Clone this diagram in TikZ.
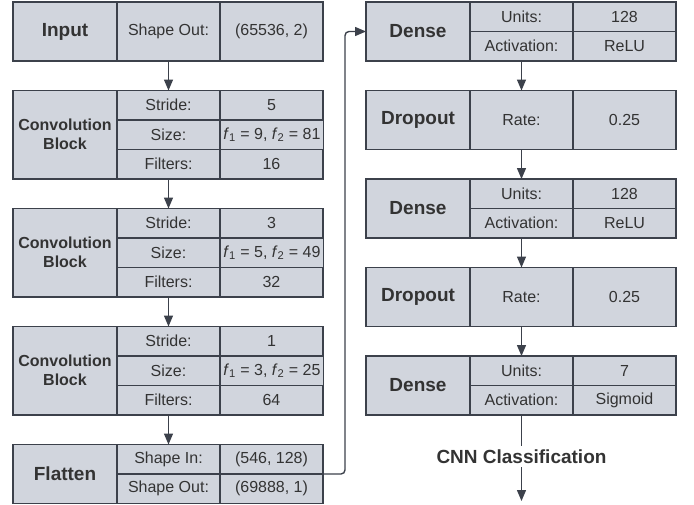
\documentclass[tikz,border=0pt]{standalone}
\usepackage{fontspec}
\setmainfont{Liberation Sans}
\usetikzlibrary{arrows.meta,positioning}
\usepackage{xcolor}
\definecolor{cellfill}{HTML}{D1D5DD}
\definecolor{celldraw}{HTML}{3C414B}
\definecolor{celltext}{HTML}{333333}

\begin{document}
\begin{tikzpicture}[
    node distance=29.5pt,
    layer/.style={rectangle, minimum width=104pt, text centered, draw=celldraw, fill=cellfill, line width=1.1pt, outer sep=0pt, text=celltext, font=\fontsize{19}{22}\selectfont\bfseries},
    block/.style={layer, align=center, font=\fontsize{16}{19}\selectfont\bfseries},
    param/.style={rectangle, minimum width=103pt, minimum height=29.5pt, text centered, draw=celldraw, fill=cellfill, line width=1.1pt, outer sep=0pt, text=celltext, font=\fontsize{16}{19}\selectfont},
    value/.style={param},
    link/.style={line width=1.4pt, draw=celldraw},
    arrow/.style={link, -{Triangle[length=11pt,width=9pt]}}
]
\useasboundingbox (0,0) rectangle (694pt,-504pt);

% Left column
\node (input) [layer, minimum height=59pt] at (65pt,-31.5pt) {Input};
\node (in-key) [param, minimum height=59pt, anchor=north west] at (input.north east) {Shape Out:};
\node (in-val) [value, minimum height=59pt, right=0pt of in-key] {(65536, 2)};

\node (conv1) [block, minimum height=88.5pt, below=of input] {Convolution\\Block};
\node (c1-k1) [param, anchor=north west] at (conv1.north east) {Stride:};
\node (c1-k2) [param, below=0pt of c1-k1] {Size:};
\node (c1-k3) [param, below=0pt of c1-k2] {Filters:};
\node (c1-v1) [value, right=0pt of c1-k1] {5};
\node (c1-v2) [value, right=0pt of c1-k2] {\textit{f}\textsubscript{1} = 9, \textit{f}\textsubscript{2} = 81};
\node (c1-v3) [value, right=0pt of c1-k3] {16};

\node (conv2) [block, minimum height=88.5pt, below=of conv1] {Convolution\\Block};
\node (c2-k1) [param, anchor=north west] at (conv2.north east) {Stride:};
\node (c2-k2) [param, below=0pt of c2-k1] {Size:};
\node (c2-k3) [param, below=0pt of c2-k2] {Filters:};
\node (c2-v1) [value, right=0pt of c2-k1] {3};
\node (c2-v2) [value, right=0pt of c2-k2] {\textit{f}\textsubscript{1} = 5, \textit{f}\textsubscript{2} = 49};
\node (c2-v3) [value, right=0pt of c2-k3] {32};

\node (conv3) [block, minimum height=88.5pt, below=of conv2] {Convolution\\Block};
\node (c3-k1) [param, anchor=north west] at (conv3.north east) {Stride:};
\node (c3-k2) [param, below=0pt of c3-k1] {Size:};
\node (c3-k3) [param, below=0pt of c3-k2] {Filters:};
\node (c3-v1) [value, right=0pt of c3-k1] {1};
\node (c3-v2) [value, right=0pt of c3-k2] {\textit{f}\textsubscript{1} = 3, \textit{f}\textsubscript{2} = 25};
\node (c3-v3) [value, right=0pt of c3-k3] {64};

\node (flatten) [layer, minimum height=59pt, below=of conv3] {Flatten};
\node (fl-k1) [param, anchor=north west] at (flatten.north east) {Shape In:};
\node (fl-k2) [param, below=0pt of fl-k1] {Shape Out:};
\node (fl-v1) [value, right=0pt of fl-k1] {(546, 128)};
\node (fl-v2) [value, right=0pt of fl-k2] {(69888, 1)};

% Right column
\node (dense1) [layer, minimum height=59pt, right=249pt of input] {Dense};
\node (d1-k1) [param, anchor=north west] at (dense1.north east) {Units:};
\node (d1-k2) [param, below=0pt of d1-k1] {Activation:};
\node (d1-v1) [value, right=0pt of d1-k1] {128};
\node (d1-v2) [value, right=0pt of d1-k2] {ReLU};

\node (drop1) [layer, minimum height=59pt, below=of dense1] {Dropout};
\node (dr1-key) [param, minimum height=59pt, anchor=north west] at (drop1.north east) {Rate:};
\node (dr1-val) [value, minimum height=59pt, right=0pt of dr1-key] {0.25};

\node (dense2) [layer, minimum height=59pt, below=of drop1] {Dense};
\node (d2-k1) [param, anchor=north west] at (dense2.north east) {Units:};
\node (d2-k2) [param, below=0pt of d2-k1] {Activation:};
\node (d2-v1) [value, right=0pt of d2-k1] {128};
\node (d2-v2) [value, right=0pt of d2-k2] {ReLU};

\node (drop2) [layer, minimum height=59pt, below=of dense2] {Dropout};
\node (dr2-key) [param, minimum height=59pt, anchor=north west] at (drop2.north east) {Rate:};
\node (dr2-val) [value, minimum height=59pt, right=0pt of dr2-key] {0.25};

\node (dense3) [layer, minimum height=59pt, below=of drop2] {Dense};
\node (d3-k1) [param, anchor=north west] at (dense3.north east) {Units:};
\node (d3-k2) [param, below=0pt of d3-k1] {Activation:};
\node (d3-v1) [value, right=0pt of d3-k1] {7};
\node (d3-v2) [value, right=0pt of d3-k2] {Sigmoid};

\node (cnn) [below=31pt of d3-k2, text=celltext, font=\fontsize{19}{22}\selectfont\bfseries] {CNN Classification};
\coordinate [below=34pt of cnn] (end);
\coordinate (turn) at ([xshift=22pt]fl-v1.south east);

% Arrows
\draw [arrow] (in-key) -- (c1-k1);
\draw [arrow] (c1-k3) -- (c2-k1);
\draw [arrow] (c2-k3) -- (c3-k1);
\draw [arrow] (c3-k3) -- (fl-k1);
\draw [arrow, rounded corners=4pt] (fl-v1.south east) -- (turn) |- (dense1.west);
\draw [arrow] (d1-k2) -- (dr1-key);
\draw [arrow] (dr1-key) -- (d2-k1);
\draw [arrow] (d2-k2) -- (dr2-key);
\draw [arrow] (dr2-key) -- (d3-k1);
\draw [link] (d3-k2) -- (cnn);
\draw [arrow] (cnn) -- (end);

\end{tikzpicture}
\end{document}
